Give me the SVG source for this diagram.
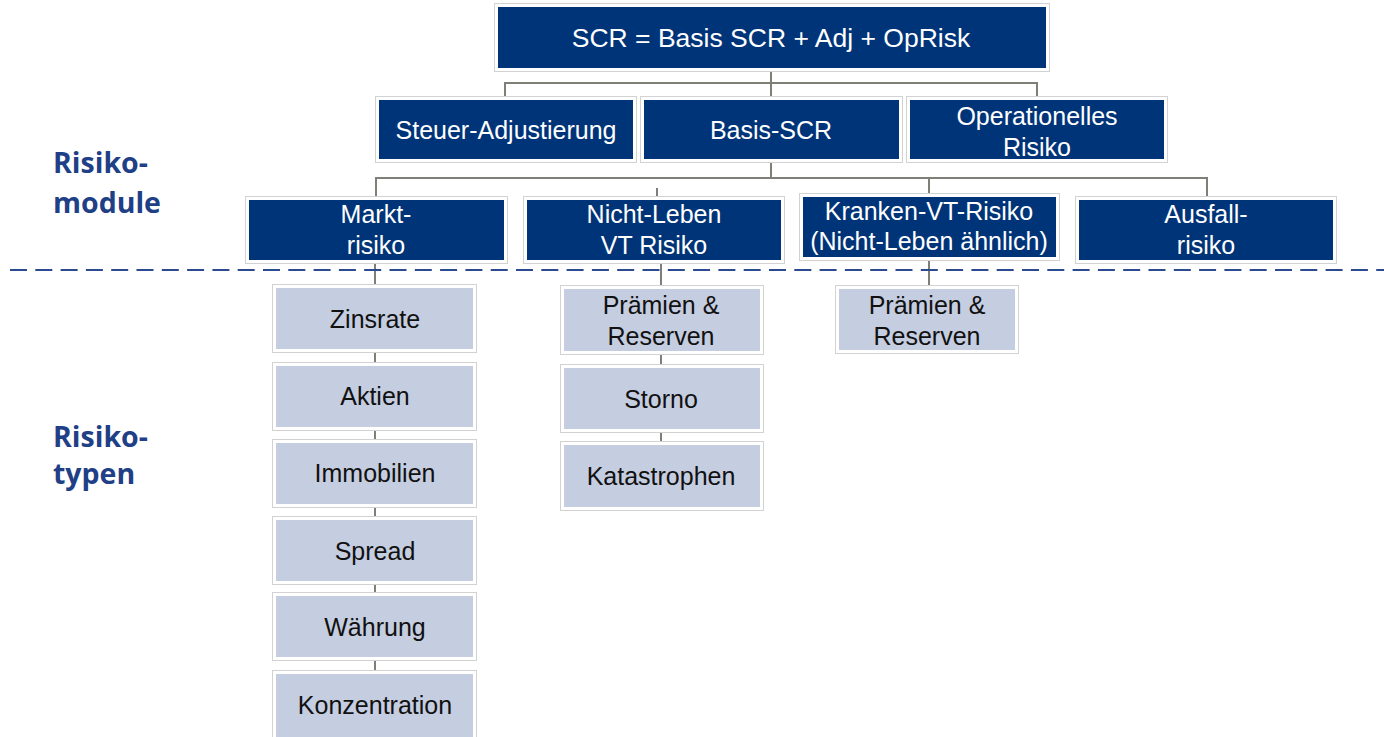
<svg xmlns="http://www.w3.org/2000/svg" width="1384" height="737" viewBox="0 0 1384 737">
<style>
.frame{fill:#ffffff;stroke:#d2d2d2;stroke-width:1}
.dark{fill:#003478}
.light{fill:#c5cde0}
.tw{font-family:"Liberation Sans",Arial,sans-serif;font-size:25px;fill:#ffffff;text-anchor:middle}
.tb{font-family:"Liberation Sans",Arial,sans-serif;font-size:25px;fill:#111111;text-anchor:middle}
.lab{font-family:"Open Sans","Noto Sans",sans-serif;font-weight:bold;font-size:28.5px;fill:#1f3f86}
.con{stroke:#7f7f78;stroke-width:2;fill:none}
</style>
<rect width="1384" height="737" fill="#ffffff"/>
<g id="connectors">
<path class="con" d="M771 70V97M505 97V83H1037V97"/>
<path class="con" d="M771 160V178M376 197V178H1207V197M929 178V197M657 188V197"/>
<path class="con" d="M375 262V737"/>
<path class="con" d="M661 262V442"/>
<path class="con" d="M929 260V286"/>
</g>
<line x1="10" y1="270" x2="1384" y2="270" stroke="#2b4a90" stroke-width="2.2" stroke-dasharray="17 8.3"/>
<g id="lbl-module"><text class="lab" x="53" y="173">Risiko-</text><text class="lab" x="53" y="213">module</text></g>
<g id="lbl-typen"><text class="lab" x="53" y="447">Risiko-</text><text class="lab" x="53" y="484">typen</text></g>
<g id="scr"><rect class="frame" x="494.5" y="3.5" width="555" height="68"/><rect class="dark" x="498" y="7" width="548" height="61"/><text class="tw" x="771" y="47" style="font-size:26.5px">SCR = Basis SCR + Adj + OpRisk</text></g>
<g id="steuer"><rect class="frame" x="375.5" y="96.5" width="261" height="66"/><rect class="dark" x="379" y="100" width="254" height="59"/><text class="tw" x="506" y="139">Steuer-Adjustierung</text></g>
<g id="basis"><rect class="frame" x="640.5" y="96.5" width="262" height="66"/><rect class="dark" x="644" y="100" width="255" height="59"/><text class="tw" x="771" y="139">Basis-SCR</text></g>
<g id="oprisk"><rect class="frame" x="906.5" y="96.5" width="261" height="66"/><rect class="dark" x="910" y="100" width="254" height="59"/><text class="tw" x="1037" y="125">Operationelles</text><text class="tw" x="1037" y="156">Risiko</text></g>
<g id="markt"><rect class="frame" x="245.5" y="196.5" width="262" height="67"/><rect class="dark" x="249" y="200" width="255" height="60"/><text class="tw" x="376" y="223">Markt-</text><text class="tw" x="376" y="254">risiko</text></g>
<g id="nichtleben"><rect class="frame" x="523.5" y="196.5" width="261" height="67"/><rect class="dark" x="527" y="200" width="254" height="60"/><text class="tw" x="654" y="223">Nicht-Leben</text><text class="tw" x="654" y="254">VT Risiko</text></g>
<g id="kranken"><rect class="frame" x="799.5" y="193.5" width="260" height="67"/><rect class="dark" x="803" y="197" width="253" height="60"/><text class="tw" x="929" y="220">Kranken-VT-Risiko</text><text class="tw" x="929" y="250">(Nicht-Leben ähnlich)</text></g>
<g id="ausfall"><rect class="frame" x="1075.5" y="196.5" width="261" height="67"/><rect class="dark" x="1079" y="200" width="254" height="60"/><text class="tw" x="1206" y="223">Ausfall-</text><text class="tw" x="1206" y="254">risiko</text></g>
<g id="zinsrate"><rect class="frame" x="272.5" y="284.5" width="204" height="68"/><rect class="light" x="276" y="288" width="197" height="61"/><text class="tb" x="375" y="328">Zinsrate</text></g>
<g id="aktien"><rect class="frame" x="272.5" y="362.5" width="204" height="68"/><rect class="light" x="276" y="366" width="197" height="61"/><text class="tb" x="375" y="405">Aktien</text></g>
<g id="immobilien"><rect class="frame" x="272.5" y="439.5" width="204" height="68"/><rect class="light" x="276" y="443" width="197" height="61"/><text class="tb" x="375" y="482">Immobilien</text></g>
<g id="spread"><rect class="frame" x="272.5" y="516.5" width="204" height="68"/><rect class="light" x="276" y="520" width="197" height="61"/><text class="tb" x="375" y="560">Spread</text></g>
<g id="waehrung"><rect class="frame" x="272.5" y="592.5" width="204" height="68"/><rect class="light" x="276" y="596" width="197" height="61"/><text class="tb" x="375" y="636">Währung</text></g>
<g id="konzentration"><rect class="frame" x="272.5" y="670.5" width="204" height="70"/><rect class="light" x="276" y="674" width="197" height="70"/><text class="tb" x="375" y="714">Konzentration</text></g>
<g id="nl-praemien"><rect class="frame" x="560.5" y="285.5" width="203" height="69"/><rect class="light" x="564" y="289" width="196" height="62"/><text class="tb" x="661" y="314">Prämien &amp;</text><text class="tb" x="661" y="345">Reserven</text></g>
<g id="storno"><rect class="frame" x="560.5" y="364.5" width="203" height="68"/><rect class="light" x="564" y="368" width="196" height="61"/><text class="tb" x="661" y="408">Storno</text></g>
<g id="katastrophen"><rect class="frame" x="560.5" y="441.5" width="203" height="69"/><rect class="light" x="564" y="445" width="196" height="62"/><text class="tb" x="661" y="485">Katastrophen</text></g>
<g id="kr-praemien"><rect class="frame" x="835.5" y="285.5" width="183" height="68"/><rect class="light" x="839" y="289" width="176" height="61"/><text class="tb" x="927" y="314">Prämien &amp;</text><text class="tb" x="927" y="345">Reserven</text></g>
</svg>
